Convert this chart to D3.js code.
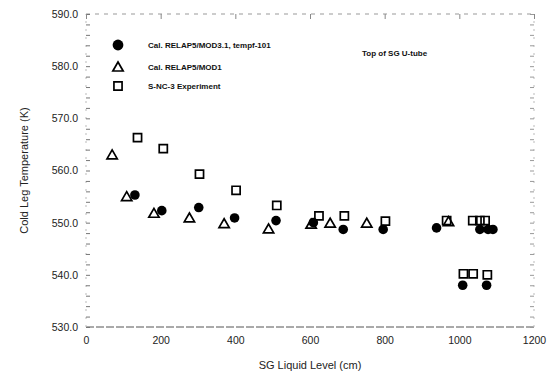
<!DOCTYPE html>
<html>
<head>
<meta charset="utf-8">
<script src="https://cdn.jsdelivr.net/npm/d3@7"></script>
<style>
  body { margin: 0; background: #fff; }
  svg { font-family: "Liberation Sans", Arial, sans-serif; }
  .tick text { fill: #222; }
</style>
</head>
<body>
<svg id="chart"></svg>
<script>
const W = 558, H = 377;
const margin = {top: 14, right: 24, bottom: 50, left: 86};

// Cal. RELAP5/MOD3.1, tempf-101 (filled circles)
const mod31Level = [131, 203, 302, 398, 509, 609, 689, 796, 939, 1009, 1055, 1073, 1077, 1090];
const mod31Temp  = [555.3, 552.3, 552.9, 550.9, 550.4, 550.0, 548.7, 548.7, 549.0, 538.0, 548.7, 538.0, 548.7, 548.7];
// Cal. RELAP5/MOD1 (open triangles)
const mod1Level = [70, 109, 182, 277, 370, 489, 603, 654, 752, 971];
const mod1Temp  = [563.0, 555.0, 551.8, 550.9, 549.8, 548.8, 549.7, 549.9, 549.9, 550.2];
// S-NC-3 Experiment (open squares)
const expLevel = [138, 207, 304, 402, 511, 624, 692, 802, 966, 1036, 1055, 1069, 1011, 1037, 1075];
const expTemp  = [566.3, 564.2, 559.3, 556.2, 553.3, 551.3, 551.3, 550.3, 550.4, 550.4, 550.4, 550.4, 540.2, 540.2, 540.0];

const xTicks = [0, 200, 400, 600, 800, 1000, 1200];
const yTicks = [530, 540, 550, 560, 570, 580, 590];
const legendLabels = ["Cal. RELAP5/MOD3.1, tempf-101", "Cal. RELAP5/MOD1", "S-NC-3 Experiment"];

const svg = d3.select("#chart").attr("width", W).attr("height", H);

const x = d3.scaleLinear().domain([0, 1200]).range([margin.left, W - margin.right]);
const y = d3.scaleLinear().domain([530, 590]).range([H - margin.bottom, margin.top]);

// frame (faded, like a scanned figure)
svg.append("line")
    .attr("x1", x(0)).attr("x2", x(1200)).attr("y1", y(530)).attr("y2", y(530))
    .attr("stroke", "#555").attr("stroke-width", 1).attr("stroke-dasharray", "8,2");
svg.append("line")
    .attr("x1", x(0)).attr("x2", x(1200)).attr("y1", y(590)).attr("y2", y(590))
    .attr("stroke", "#999").attr("stroke-width", 1).attr("stroke-dasharray", "4,5");
svg.append("line")
    .attr("x1", x(0)).attr("x2", x(0)).attr("y1", y(530)).attr("y2", y(590))
    .attr("stroke", "#bbb").attr("stroke-width", 1).attr("stroke-dasharray", "2,6");
svg.append("line")
    .attr("x1", x(1200)).attr("x2", x(1200)).attr("y1", y(530)).attr("y2", y(590))
    .attr("stroke", "#bbb").attr("stroke-width", 1).attr("stroke-dasharray", "2,6");

// minor ticks
svg.append("g")
    .attr("transform", `translate(${x(0)},0)`)
    .call(d3.axisRight(y).ticks(30).tickSize(4).tickFormat(""))
    .call(g => g.select(".domain").remove())
    .call(g => g.selectAll("line").attr("stroke", "#777"));
svg.append("g")
    .attr("transform", `translate(${x(1200)},0)`)
    .call(d3.axisLeft(y).ticks(30).tickSize(4).tickFormat(""))
    .call(g => g.select(".domain").remove())
    .call(g => g.selectAll("line").attr("stroke", "#999"));
svg.append("g")
    .attr("transform", `translate(0,${y(590)})`)
    .call(d3.axisBottom(x).tickValues(xTicks).tickSize(5).tickFormat(""))
    .call(g => g.select(".domain").remove())
    .call(g => g.selectAll("line").attr("stroke", "#888"));

// y axis labels
svg.append("g")
    .attr("transform", `translate(${x(0)},0)`)
    .call(d3.axisLeft(y).tickValues(yTicks).tickSize(0).tickPadding(8).tickFormat(d3.format(".1f")))
    .call(g => g.select(".domain").remove())
    .call(g => g.selectAll("text").attr("font-size", 10.5));

// x axis labels
svg.append("g")
    .attr("transform", `translate(0,${y(530)})`)
    .call(d3.axisBottom(x).tickValues(xTicks).tickSize(0).tickPadding(10).tickFormat(d3.format("d")))
    .call(g => g.select(".domain").remove())
    .call(g => g.selectAll("text").attr("font-size", 10.5));

svg.append("text")
    .attr("x", (x(0) + x(1200)) / 2).attr("y", 369)
    .attr("text-anchor", "middle").attr("font-size", 11).attr("fill", "#222")
    .text("SG Liquid Level (cm)");
svg.append("text")
    .attr("transform", `translate(28,${(y(530) + y(590)) / 2}) rotate(-90)`)
    .attr("text-anchor", "middle").attr("font-size", 11).attr("fill", "#222")
    .text("Cold Leg Temperature (K)");

svg.append("text")
    .attr("x", 362).attr("y", 56)
    .attr("font-size", 8).attr("font-weight", "bold").attr("fill", "#111")
    .text("Top of SG U-tube");

// marker shapes
const tri = d3.symbol().type(d3.symbolTriangle).size(46);
const sq = d3.symbol().type(d3.symbolSquare).size(66);

const mod31 = mod31Level.map((v, i) => ({lv: v, t: mod31Temp[i]}));
const mod1 = mod1Level.map((v, i) => ({lv: v, t: mod1Temp[i]}));
const expt = expLevel.map((v, i) => ({lv: v, t: expTemp[i]}));

svg.append("g").selectAll("path")
    .data(expt).enter().append("path")
    .attr("d", sq)
    .attr("transform", d => `translate(${x(d.lv)},${y(d.t)})`)
    .attr("fill", "none").attr("stroke", "#000").attr("stroke-width", 1.7);

svg.append("g").selectAll("path")
    .data(mod1).enter().append("path")
    .attr("d", tri)
    .attr("transform", d => `translate(${x(d.lv)},${y(d.t) + 1})`)
    .attr("fill", "none").attr("stroke", "#000").attr("stroke-width", 1.7);

svg.append("g").selectAll("circle")
    .data(mod31).enter().append("circle")
    .attr("cx", d => x(d.lv)).attr("cy", d => y(d.t))
    .attr("r", 4.8).attr("fill", "#000");

// legend
const legY = [45, 67, 86];
const leg = svg.append("g");
leg.append("circle").attr("cx", 118).attr("cy", legY[0]).attr("r", 5.4).attr("fill", "#000");
leg.append("path").attr("d", tri).attr("transform", `translate(118,${legY[1] + 1})`)
    .attr("fill", "none").attr("stroke", "#000").attr("stroke-width", 1.7);
leg.append("path").attr("d", sq).attr("transform", `translate(118,${legY[2]})`)
    .attr("fill", "none").attr("stroke", "#000").attr("stroke-width", 1.7);
leg.selectAll("text")
    .data(legendLabels).enter().append("text")
    .attr("x", 148).attr("y", (d, i) => legY[i] + 3)
    .attr("font-size", 8).attr("font-weight", "bold").attr("fill", "#111")
    .text(d => d);
</script>
</body>
</html>
